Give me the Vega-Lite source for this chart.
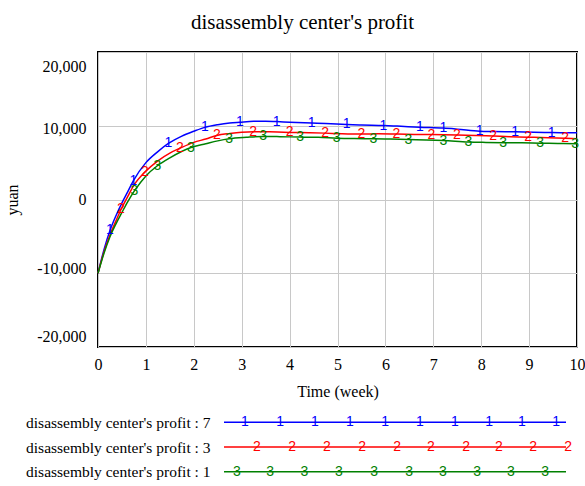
{
  "$schema": "https://vega.github.io/schema/vega-lite/v6.json",
  "padding": {"left": 3, "top": 11, "right": 5, "bottom": 0},
  "spacing": 10,
  "config": {
    "font": "Liberation Serif",
    "view": {"stroke": "black", "strokeWidth": 2},
    "style": {"guide-label": {"font": "Liberation Serif"}, "guide-title": {"font": "Liberation Serif"}},
    "axis": {
      "labelFont": "Liberation Serif", "titleFont": "Liberation Serif",
      "labelColor": "black", "titleColor": "black", "titleFontWeight": "normal",
      "labelFontSize": 16, "titleFontSize": 16, "ticks": false, "domain": false,
      "gridColor": "#c8c8c8", "gridOpacity": 1, "labelFlush": false, "labelOverlap": false, "labelLimit": 0
    }
  },
  "datasets": {
    "profit": [
      {"s":"7","t":0,"v":-10000},{"s":"7","t":0.125,"v":-6800},{"s":"7","t":0.25,"v":-4200,"mk":"1"},{"s":"7","t":0.375,"v":-2200},{"s":"7","t":0.5,"v":-450},{"s":"7","t":0.625,"v":1100},{"s":"7","t":0.74,"v":2550,"mk":"1"},{"s":"7","t":1,"v":5000},{"s":"7","t":1.25,"v":6500},{"s":"7","t":1.47,"v":7600,"mk":"1"},{"s":"7","t":1.75,"v":8600},{"s":"7","t":2,"v":9250},{"s":"7","t":2.23,"v":9780,"mk":"1"},{"s":"7","t":2.5,"v":10150},{"s":"7","t":2.75,"v":10380},{"s":"7","t":2.96,"v":10480,"mk":"1"},{"s":"7","t":3.25,"v":10600},{"s":"7","t":3.5,"v":10620},{"s":"7","t":3.73,"v":10560,"mk":"1"},{"s":"7","t":4,"v":10480},{"s":"7","t":4.46,"v":10360,"mk":"1"},{"s":"7","t":4.75,"v":10300},{"s":"7","t":5.19,"v":10170,"mk":"1"},{"s":"7","t":5.5,"v":10100},{"s":"7","t":5.96,"v":10030,"mk":"1"},{"s":"7","t":6.25,"v":9950},{"s":"7","t":6.72,"v":9800,"mk":"1"},{"s":"7","t":7.21,"v":9680,"mk":"1"},{"s":"7","t":7.5,"v":9540},{"s":"7","t":7.97,"v":9270,"mk":"1"},{"s":"7","t":8.25,"v":9220},{"s":"7","t":8.71,"v":9170,"mk":"1"},{"s":"7","t":9.1,"v":9120},{"s":"7","t":9.47,"v":9080,"mk":"1"},{"s":"7","t":10,"v":9040},
      {"s":"3","t":0,"v":-10000},{"s":"3","t":0.125,"v":-7100},{"s":"3","t":0.25,"v":-4800},{"s":"3","t":0.375,"v":-2900},{"s":"3","t":0.48,"v":-1350,"mk":"2"},{"s":"3","t":0.625,"v":450},{"s":"3","t":0.75,"v":1950},{"s":"3","t":0.98,"v":3730,"mk":"2"},{"s":"3","t":1.25,"v":5250},{"s":"3","t":1.5,"v":6300},{"s":"3","t":1.71,"v":6950,"mk":"2"},{"s":"3","t":2,"v":7750},{"s":"3","t":2.25,"v":8200},{"s":"3","t":2.48,"v":8680,"mk":"2"},{"s":"3","t":2.75,"v":8950},{"s":"3","t":3,"v":9130},{"s":"3","t":3.24,"v":9200,"mk":"2"},{"s":"3","t":3.5,"v":9190},{"s":"3","t":3.75,"v":9160},{"s":"3","t":4,"v":9100,"mk":"2"},{"s":"3","t":4.4,"v":9060},{"s":"3","t":4.74,"v":9000,"mk":"2"},{"s":"3","t":5.1,"v":8920},{"s":"3","t":5.5,"v":8880,"mk":"2"},{"s":"3","t":5.85,"v":8900},{"s":"3","t":6.23,"v":8880,"mk":"2"},{"s":"3","t":6.6,"v":8830},{"s":"3","t":6.96,"v":8800,"mk":"2"},{"s":"3","t":7.49,"v":8750,"mk":"2"},{"s":"3","t":7.9,"v":8680},{"s":"3","t":8.25,"v":8600,"mk":"2"},{"s":"3","t":8.6,"v":8520},{"s":"3","t":8.98,"v":8450,"mk":"2"},{"s":"3","t":9.4,"v":8370},{"s":"3","t":9.75,"v":8290,"mk":"2"},{"s":"3","t":10,"v":8240},
      {"s":"1","t":0,"v":-10000},{"s":"1","t":0.125,"v":-7300},{"s":"1","t":0.25,"v":-5050},{"s":"1","t":0.375,"v":-3300},{"s":"1","t":0.5,"v":-1750},{"s":"1","t":0.625,"v":-250},{"s":"1","t":0.76,"v":1160,"mk":"3"},{"s":"1","t":1,"v":3200},{"s":"1","t":1.24,"v":4580,"mk":"3"},{"s":"1","t":1.5,"v":5650},{"s":"1","t":1.94,"v":7050,"mk":"3"},{"s":"1","t":2.25,"v":7560},{"s":"1","t":2.5,"v":7950},{"s":"1","t":2.74,"v":8230,"mk":"3"},{"s":"1","t":3.1,"v":8430},{"s":"1","t":3.45,"v":8550,"mk":"3"},{"s":"1","t":3.8,"v":8520},{"s":"1","t":4.22,"v":8460,"mk":"3"},{"s":"1","t":4.6,"v":8440},{"s":"1","t":4.98,"v":8320,"mk":"3"},{"s":"1","t":5.35,"v":8260},{"s":"1","t":5.75,"v":8230,"mk":"3"},{"s":"1","t":6.1,"v":8190},{"s":"1","t":6.48,"v":8130,"mk":"3"},{"s":"1","t":6.85,"v":8080},{"s":"1","t":7.21,"v":8000,"mk":"3"},{"s":"1","t":7.73,"v":7800,"mk":"3"},{"s":"1","t":8.1,"v":7740},{"s":"1","t":8.46,"v":7700,"mk":"3"},{"s":"1","t":8.85,"v":7680},{"s":"1","t":9.23,"v":7640,"mk":"3"},{"s":"1","t":9.6,"v":7600},{"s":"1","t":9.96,"v":7560,"mk":"3"},{"s":"1","t":10,"v":7555}
    ],
    "legend": [
      {"s":"7","p":0},{"s":"7","p":1},
      {"s":"3","p":0},{"s":"3","p":1},
      {"s":"1","p":0},{"s":"1","p":1},
      {"s":"7","p":0.061,"mk":"1"},{"s":"7","p":0.164,"mk":"1"},{"s":"7","p":0.266,"mk":"1"},{"s":"7","p":0.368,"mk":"1"},{"s":"7","p":0.471,"mk":"1"},{"s":"7","p":0.573,"mk":"1"},{"s":"7","p":0.675,"mk":"1"},{"s":"7","p":0.775,"mk":"1"},{"s":"7","p":0.871,"mk":"1"},{"s":"7","p":0.971,"mk":"1"},
      {"s":"3","p":0.096,"mk":"2"},{"s":"3","p":0.199,"mk":"2"},{"s":"3","p":0.301,"mk":"2"},{"s":"3","p":0.404,"mk":"2"},{"s":"3","p":0.506,"mk":"2"},{"s":"3","p":0.605,"mk":"2"},{"s":"3","p":0.708,"mk":"2"},{"s":"3","p":0.804,"mk":"2"},{"s":"3","p":0.904,"mk":"2"},{"s":"3","p":1.006,"mk":"2"},
      {"s":"1","p":0.038,"mk":"3"},{"s":"1","p":0.135,"mk":"3"},{"s":"1","p":0.235,"mk":"3"},{"s":"1","p":0.336,"mk":"3"},{"s":"1","p":0.439,"mk":"3"},{"s":"1","p":0.541,"mk":"3"},{"s":"1","p":0.640,"mk":"3"},{"s":"1","p":0.740,"mk":"3"},{"s":"1","p":0.839,"mk":"3"},{"s":"1","p":0.939,"mk":"3"}
    ]
  },
  "vconcat": [
    {
      "width": 479,
      "height": 295,
      "title": {"text": "disassembly center's profit", "font": "Liberation Serif", "fontSize": 21, "fontWeight": "normal", "color": "black", "dx": -35, "offset": 19},
      "data": {"name": "profit"},
      "encoding": {
        "x": {"field": "t", "type": "quantitative", "scale": {"domain": [0, 10], "nice": false},
          "axis": {"values": [0,1,2,3,4,5,6,7,8,9,10], "title": "Time (week)", "labelFont": "Liberation Serif", "titleFont": "Liberation Serif", "labelPadding": 9, "titlePadding": 11, "grid": true}},
        "y": {"field": "v", "type": "quantitative", "scale": {"domain": [-20000, 20000], "nice": false},
          "axis": {"values": [-20000,-10000,0,10000,20000], "title": "yuan", "labelFont": "Liberation Serif", "titleFont": "Liberation Serif", "titlePadding": 16, "labelPadding": 12, "grid": true,
            "labelExpr": "datum.value < 0 ? '-' + format(-datum.value, ',') : format(datum.value, ',')",
            "labelOffset": {"condition": [{"test": "datum.value == 20000", "value": 14}, {"test": "datum.value == 10000", "value": 3}, {"test": "datum.value == -10000", "value": -5}, {"test": "datum.value == -20000", "value": -11}], "value": 0}}},
        "color": {"field": "s", "type": "nominal", "scale": {"domain": ["7","3","1"], "range": ["#0000ff","#ff0000","#008000"]}, "legend": null}
      },
      "layer": [
        {"mark": {"type": "line", "interpolate": "monotone", "strokeWidth": 1.5}},
        {"transform": [{"filter": "isValid(datum.mk)"}],
         "mark": {"type": "text", "font": "Liberation Sans", "fontSize": 14, "baseline": "middle", "align": "center"},
         "encoding": {"text": {"field": "mk"}}}
      ]
    },
    {
      "width": 468,
      "height": 74,
      "view": {"stroke": null},
      "data": {"name": "legend"},
      "encoding": {
        "x": {"field": "p", "type": "quantitative", "scale": {"domain": [0, 1], "range": [126, 468], "nice": false, "zero": false}, "axis": null},
        "y": {"field": "s", "type": "nominal", "scale": {"domain": ["7","3","1"]},
          "axis": {"orient": "left", "offset": -112, "title": null, "grid": false, "labelPadding": 0, "labelFontSize": 15.5, "labelLimit": 0, "labelFont": "Liberation Serif",
            "labelExpr": "\"disassembly center's profit : \" + datum.label"}},
        "color": {"field": "s", "type": "nominal", "scale": {"domain": ["7","3","1"], "range": ["#0000ff","#ff0000","#008000"]}, "legend": null}
      },
      "layer": [
        {"transform": [{"filter": "!isValid(datum.mk)"}], "mark": {"type": "line", "strokeWidth": 1.5}},
        {"transform": [{"filter": "isValid(datum.mk)"}],
         "mark": {"type": "text", "font": "Liberation Sans", "fontSize": 14, "baseline": "middle", "align": "center"},
         "encoding": {"text": {"field": "mk"}}}
      ]
    }
  ]
}
